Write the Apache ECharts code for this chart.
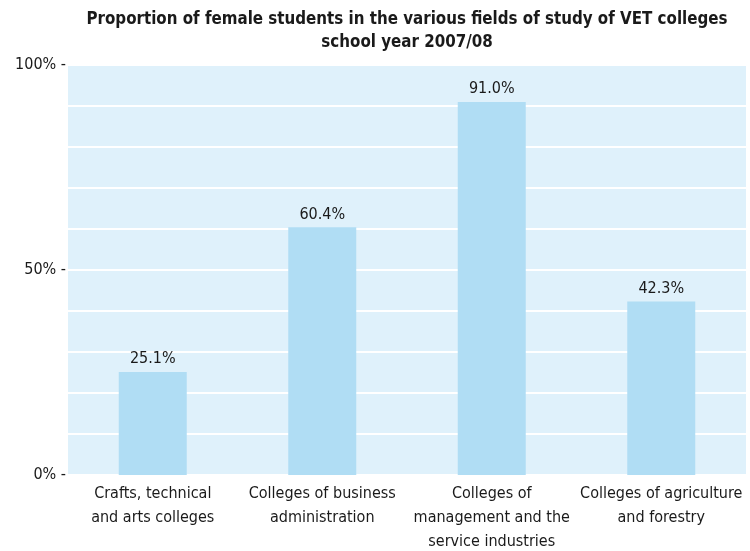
<!DOCTYPE html>
<html>
<head>
<meta charset="utf-8">
<script src="https://cdn.jsdelivr.net/npm/echarts@6/dist/echarts.min.js"></script>
<style>
  html, body { margin: 0; padding: 0; background: #fff; }
  #chart { width: 750px; height: 551px; }
</style>
</head>
<body>
<div id="chart"></div>
<script>
// categories and values
var categories = [
  'Crafts, technical\nand arts colleges',
  'Colleges of business\nadministration',
  'Colleges of\nmanagement and the\nservice industries',
  'Colleges of agriculture\nand forestry'
];
var femaleShare = [25.1, 60.4, 91.0, 42.3];
var yTickLabels = [0, 50, 100];

var fontName = '"DejaVu Sans Condensed", "Liberation Sans", Arial, sans-serif';

var chart = echarts.init(document.getElementById('chart'));
chart.setOption({
  animation: false,
  title: {
    text: 'Proportion of female students in the various fields of study of VET colleges\nschool year 2007/08',
    left: 402,
    textAlign: 'center',
    top: 3,
    textStyle: {
      fontFamily: fontName,
      fontSize: 16.8,
      fontWeight: 'bold',
      color: '#1a1a1a',
      lineHeight: 23
    }
  },
  grid: {
    left: 68,
    right: 4,
    top: 65,
    bottom: 76,
    outerBoundsMode: 'none',
    show: true,
    backgroundColor: '#dff1fb',
    borderWidth: 0
  },
  xAxis: {
    type: 'category',
    data: categories,
    axisLine: { show: false },
    axisTick: { show: false },
    axisLabel: {
      fontFamily: fontName,
      fontSize: 16,
      color: '#1a1a1a',
      lineHeight: 24,
      margin: 7,
      interval: 0
    }
  },
  yAxis: {
    type: 'value',
    min: 0,
    max: 100,
    interval: 10,
    axisLine: { show: false },
    axisTick: { show: false },
    splitLine: { lineStyle: { color: '#ffffff', width: 2 } },
    axisLabel: {
      fontFamily: fontName,
      fontSize: 16,
      color: '#1a1a1a',
      margin: 2,
      padding: [0, 0, 3, 0],
      formatter: function (v) {
        return yTickLabels.indexOf(v) >= 0 ? v + '% -' : '';
      }
    }
  },
  series: [{
    type: 'bar',
    data: femaleShare,
    barWidth: 68,
    itemStyle: { color: '#b0ddf4' },
    label: {
      show: true,
      position: 'top',
      distance: 5,
      fontFamily: fontName,
      fontSize: 16,
      color: '#1a1a1a',
      formatter: function (p) { return p.value.toFixed(1) + '%'; }
    }
  }]
});
</script>
</body>
</html>
